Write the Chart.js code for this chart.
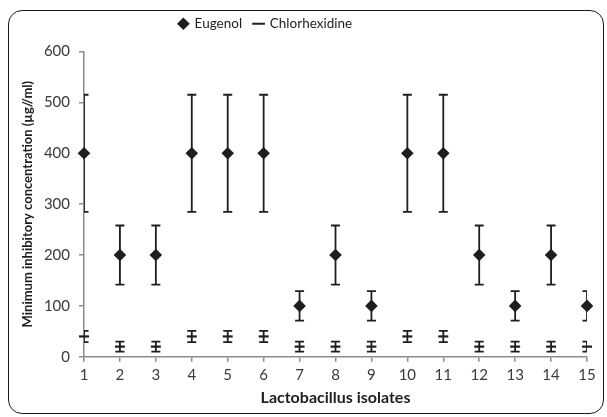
<!DOCTYPE html>
<html>
<head>
<meta charset="utf-8">
<script src="https://cdn.jsdelivr.net/npm/chart.js@4"></script>
<style>
  html, body { margin: 0; padding: 0; background: #fff; }
  #wrap { position: relative; width: 607px; height: 417px; }
  #frame {
    position: absolute; left: 8px; top: 10px; width: 594px; height: 402px;
    border: 1.6px solid #1a1a1a; border-radius: 14px; pointer-events: none;
  }
</style>
</head>
<body>
<div id="wrap">
  <canvas id="grafico" width="607" height="417"></canvas>
  <div id="frame"></div>
</div>
<script>
const isolates = [1, 2, 3, 4, 5, 6, 7, 8, 9, 10, 11, 12, 13, 14, 15];
const eugenol = [400, 200, 200, 400, 400, 400, 100, 200, 100, 400, 400, 200, 100, 200, 100];
const eugenolErr = [115, 58, 58, 115, 115, 115, 29, 58, 29, 115, 115, 58, 29, 58, 29];
const chlorhexidine = [40, 20, 20, 40, 40, 40, 20, 20, 20, 40, 40, 20, 20, 20, 20];
const chlorErr = [11, 10, 10, 11, 11, 11, 10, 10, 10, 11, 11, 10, 10, 10, 10];
const yTicks = [0, 100, 200, 300, 400, 500, 600];

const font = "Lato, 'Open Sans', sans-serif";
const ink = "#1e1e1e";

// draws the error bars from the err arrays through the chart scales
const errorBars = {
    id: 'errorBars',
    beforeDatasetsDraw(chart) {
        const ctx = chart.ctx;
        const xs = chart.scales.x;
        const ys = chart.scales.y;
        const a = chart.chartArea;
        ctx.save();
        ctx.beginPath();
        ctx.rect(a.left, a.top - 20, a.right - a.left, a.bottom - a.top + 40);
        ctx.clip();
        ctx.strokeStyle = ink;
        ctx.lineWidth = 1.8;
        chart.data.datasets.forEach((ds) => {
            ds.data.forEach((p, i) => {
                const e = ds.err[i];
                const px = xs.getPixelForValue(p.x);
                const top = ys.getPixelForValue(p.y + e);
                const bot = ys.getPixelForValue(p.y - e);
                ctx.beginPath();
                ctx.moveTo(px, top);
                ctx.lineTo(px, bot);
                ctx.moveTo(px - 4.5, top);
                ctx.lineTo(px + 4.5, top);
                ctx.moveTo(px - 4.5, bot);
                ctx.lineTo(px + 4.5, bot);
                ctx.stroke();
            });
        });
        ctx.restore();
    }
};

// leaves some room under the legend and nudges it left
const legendGap = {
    id: 'legendGap',
    afterInit(chart) {
        const lg = chart.legend;
        if (!lg) return;
        const fit = lg.fit.bind(lg);
        lg.fit = function () {
            fit();
            this.height += 11;
        };
    },
    afterLayout(chart) {
        const lg = chart.legend;
        if (!lg) return;
        lg.left -= 28;
        lg.right -= 28;
    }
};

const data = {
    datasets: [
        {
            label: 'Eugenol',
            data: isolates.map((x, i) => ({ x: x, y: eugenol[i] })),
            err: eugenolErr,
            pointStyle: 'rectRot',
            pointRadius: 6.3,
            backgroundColor: ink,
            borderColor: ink,
            borderWidth: 0,
            showLine: false,
            clip: false
        },
        {
            label: 'Chlorhexidine',
            data: isolates.map((x, i) => ({ x: x, y: chlorhexidine[i] })),
            err: chlorErr,
            pointStyle: 'line',
            pointRadius: 5,
            backgroundColor: ink,
            borderColor: ink,
            borderWidth: 2.2,
            showLine: false,
            clip: false
        }
    ]
};

const config = {
    type: 'scatter',
    data,
    plugins: [errorBars, legendGap],
    options: {
        responsive: false,
        animation: false,
        layout: { padding: { top: 5, right: 20, left: 0, bottom: 10 } },
        plugins: {
            tooltip: { enabled: false },
            legend: {
                position: 'top',
                labels: {
                    usePointStyle: true,
                    boxWidth: 9,
                    boxHeight: 9,
                    padding: 12,
                    color: ink,
                    font: { family: font, size: 13.5 }
                }
            }
        },
        scales: {
            x: {
                type: 'linear',
                min: 1,
                max: 15,
                afterBuildTicks: (s) => { s.ticks = isolates.map(v => ({ value: v })); },
                grid: { drawOnChartArea: false, tickLength: 5, color: '#8c8c8c', lineWidth: 1.5 },
                border: { color: '#8c8c8c', width: 1.5 },
                ticks: { color: '#3a3a3a', font: { family: font, size: 15 }, padding: 4, maxRotation: 0 },
                title: {
                    display: true,
                    text: 'Lactobacillus isolates',
                    color: ink,
                    font: { family: font, size: 16, weight: 'bold' },
                    padding: { top: 0, bottom: 0 }
                }
            },
            y: {
                min: 0,
                max: 600,
                afterBuildTicks: (s) => { s.ticks = yTicks.map(v => ({ value: v })); },
                afterFit: (s) => { s.width = 84; },
                grid: { drawOnChartArea: false, tickLength: 5, color: '#8c8c8c', lineWidth: 1.5 },
                border: { color: '#8c8c8c', width: 1.5 },
                ticks: { color: '#3a3a3a', font: { family: font, size: 15 }, padding: 9 },
                title: {
                    display: true,
                    text: 'Minimum inhibitory concentration (µg//ml)',
                    color: ink,
                    font: { family: font, size: 13, weight: 'bold' },
                    padding: { top: 20, bottom: 0 }
                }
            }
        }
    }
};

new Chart(document.getElementById('grafico'), config);
</script>
</body>
</html>
